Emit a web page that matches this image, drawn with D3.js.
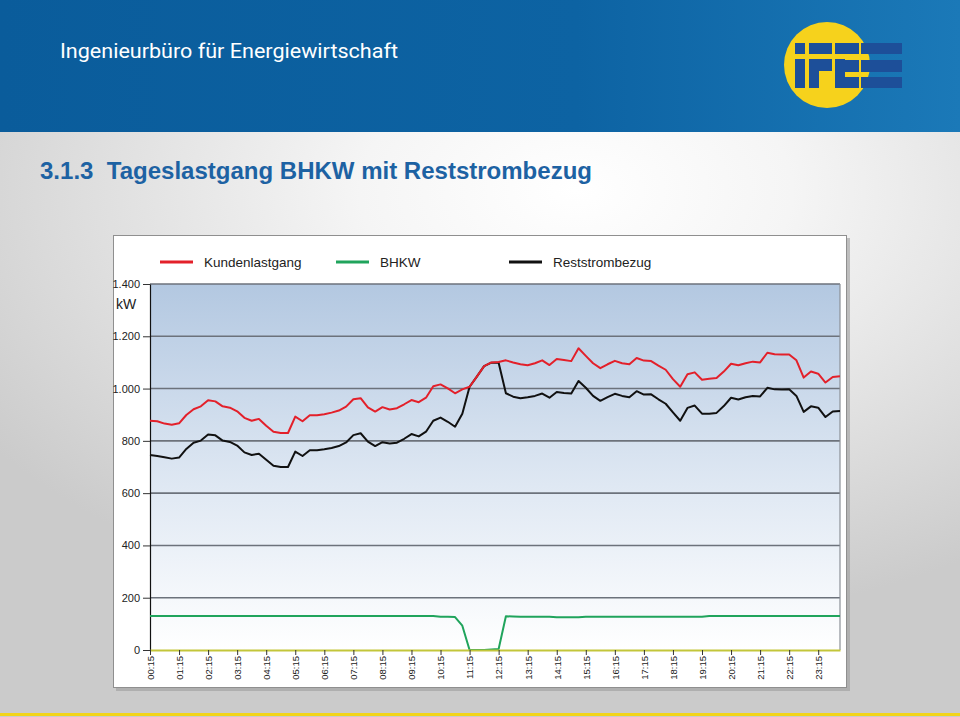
<!DOCTYPE html>
<html><head><meta charset="utf-8">
<script src="https://cdn.jsdelivr.net/npm/d3@7"></script>
<style>html,body{margin:0;padding:0;overflow:hidden;}svg{display:block;}</style>
</head><body>
<svg id="c" width="960" height="717"></svg>
<script>
const times = ["00:15","00:30","00:45","01:00","01:15","01:30","01:45","02:00","02:15","02:30","02:45","03:00",
"03:15","03:30","03:45","04:00","04:15","04:30","04:45","05:00","05:15","05:30","05:45","06:00",
"06:15","06:30","06:45","07:00","07:15","07:30","07:45","08:00","08:15","08:30","08:45","09:00",
"09:15","09:30","09:45","10:00","10:15","10:30","10:45","11:00","11:15","11:30","11:45","12:00",
"12:15","12:30","12:45","13:00","13:15","13:30","13:45","14:00","14:15","14:30","14:45","15:00",
"15:15","15:30","15:45","16:00","16:15","16:30","16:45","17:00","17:15","17:30","17:45","18:00",
"18:15","18:30","18:45","19:00","19:15","19:30","19:45","20:00","20:15","20:30","20:45","21:00",
"21:15","21:30","21:45","22:00","22:15","22:30","22:45","23:00","23:15","23:30","23:45","24:00"];

const kundenlastgang = [877,875,866,862,867,899,921,932,955,951,932,927,913,888,877,884,858,835,830,830,
893,875,898,898,902,908,916,931,959,963,928,912,929,920,925,940,956,948,965,1009,1016,1001,982,997,
1007,1046,1086,1100,1102,1108,1100,1093,1089,1097,1108,1090,1113,1109,1105,1154,1125,1097,1078,1093,
1106,1097,1093,1117,1107,1105,1088,1072,1036,1007,1055,1062,1034,1038,1040,1065,1095,1089,1097,1103,
1100,1137,1131,1130,1130,1108,1042,1065,1057,1023,1044,1047];

const bhkw = [130,130,130,130,130,130,130,130,130,130,130,130,130,130,130,130,130,130,130,130,
130,130,130,130,130,130,130,130,130,130,130,130,130,130,130,130,130,130,130,130,127,127,126,93,
0,0,0,2,4,129,128,127,127,127,127,127,125,125,125,125,127,127,127,127,
127,127,127,127,127,127,127,127,127,127,127,127,127,130,130,130,130,130,130,130,
130,130,130,130,130,130,130,130,130,130,130,130];

const reststrombezug = [746,742,737,732,736,769,793,801,824,821,801,796,782,756,746,751,728,705,700,700,
759,742,764,764,768,773,780,794,822,829,797,780,795,790,793,808,826,817,835,877,889,873,854,904,
1007,1046,1086,1099,1099,982,969,963,967,972,981,965,987,983,981,1029,1003,972,953,967,
980,972,967,990,977,978,959,942,909,877,926,935,904,904,907,933,965,958,967,972,
970,1003,997,996,997,972,911,932,927,891,912,914];

const xTickLabels = ["00:15","01:15","02:15","03:15","04:15","05:15","06:15","07:15","08:15","09:15","10:15","11:15",
"12:15","13:15","14:15","15:15","16:15","17:15","18:15","19:15","20:15","21:15","22:15","23:15"];
const yTicks = [0,200,400,600,800,1000,1200,1400];

const seriesNames = ["Kundenlastgang","BHKW","Reststrombezug"];
const seriesColors = ["#e3202a","#20a45c","#111111"];
const seriesData = [kundenlastgang, bhkw, reststrombezug];

const svg = d3.select("#c");
const defs = svg.append("defs");

const hg = defs.append("linearGradient").attr("id","hg").attr("x1",0).attr("x2",1).attr("y1",0).attr("y2",0);
hg.append("stop").attr("offset","0%").attr("stop-color","#0a5c9b");
hg.append("stop").attr("offset","60%").attr("stop-color","#0d63a3");
hg.append("stop").attr("offset","100%").attr("stop-color","#1b79b8");

const bg = defs.append("radialGradient").attr("id","bg").attr("cx","0.6").attr("cy","0.1").attr("r","0.75");
bg.append("stop").attr("offset","0%").attr("stop-color","#ffffff");
bg.append("stop").attr("offset","30%").attr("stop-color","#f5f5f5");
bg.append("stop").attr("offset","100%").attr("stop-color","#cbcbcb");

const pg = defs.append("linearGradient").attr("id","pg").attr("x1",0).attr("x2",0).attr("y1",0).attr("y2",1);
pg.append("stop").attr("offset","0%").attr("stop-color","#b3c8e1");
pg.append("stop").attr("offset","55%").attr("stop-color","#dfe8f3");
pg.append("stop").attr("offset","100%").attr("stop-color","#ffffff");

svg.append("rect").attr("x",0).attr("y",132).attr("width",960).attr("height",585).attr("fill","url(#bg)");
svg.append("rect").attr("x",0).attr("y",0).attr("width",960).attr("height",132).attr("fill","url(#hg)");
svg.append("rect").attr("x",0).attr("y",713).attr("width",960).attr("height",3).attr("fill","#f2d41a");

svg.append("text").attr("x",60).attr("y",58).attr("fill","#ffffff")
  .attr("font-family","Roboto, 'Open Sans', sans-serif").attr("font-weight",400).attr("font-size",21)
  .attr("textLength",338).attr("lengthAdjust","spacingAndGlyphs")
  .text("Ingenieurbüro für Energiewirtschaft");

// logo
const logo = svg.append("g");
logo.append("circle").attr("cx",827).attr("cy",65).attr("r",43).attr("fill","#f6d21c");
const lb = "#1d4f99";
[[795,43,10,11],[795,59,10,29],
 [809,43,23,11],[809,59,10,29],[819,59,13,12],
 [835,43,24,11],[835,59,10,29],[845,60,14,12],[845,77,14,11],
 [861,43,41,11],[861,60,41,12],[861,77,41,11]].forEach(r=>{
  logo.append("rect").attr("x",r[0]).attr("y",r[1]).attr("width",r[2]).attr("height",r[3]).attr("fill",lb);
});

svg.append("text").attr("x",40).attr("y",179).attr("fill","#1d62a3")
  .attr("font-family","'Liberation Sans', Arial, sans-serif").attr("font-weight","bold").attr("font-size",24)
  .attr("textLength",552).attr("lengthAdjust","spacingAndGlyphs")
  .style("white-space","pre")
  .text("3.1.3  Tageslastgang BHKW mit Reststrombezug");

// chart box
svg.append("rect").attr("x",116).attr("y",238).attr("width",734).attr("height",453).attr("fill","#9c9c9c").attr("opacity",0.6);
svg.append("rect").attr("x",113.5).attr("y",235.5).attr("width",733).attr("height",452).attr("fill","#ffffff").attr("stroke","#8f8f8f").attr("stroke-width",1);

const x = d3.scalePoint().domain(times).range([150,840]);
const y = d3.scaleLinear().domain([0,1400]).range([650,284]);
const de = d3.formatLocale({decimal:",",thousands:".",grouping:[3],currency:["","€"]});
const fmt = de.format(",d");

svg.append("rect").attr("x",150).attr("y",284).attr("width",690).attr("height",366).attr("fill","url(#pg)");

svg.append("g").selectAll("line").data(yTicks.filter(d=>d>0)).join("line")
  .attr("x1",150).attr("x2",840).attr("y1",d=>y(d)).attr("y2",d=>y(d))
  .attr("stroke","#6c727b").attr("stroke-width",1.6);
svg.append("line").attr("x1",840).attr("x2",840).attr("y1",284).attr("y2",650).attr("stroke","#8a8f96").attr("stroke-width",1.2);

const ya = svg.append("g").attr("transform","translate(150,0)")
  .call(d3.axisLeft(y).tickValues(yTicks).tickFormat(fmt).tickSize(7).tickSizeOuter(0).tickPadding(3));
ya.select(".domain").attr("stroke","#111").attr("stroke-width",1.2);
ya.selectAll(".tick line").attr("stroke","#333");
ya.selectAll("text").attr("font-family","'Liberation Sans', Arial, sans-serif").attr("font-size",11).attr("fill","#222");
svg.append("text").attr("x",116).attr("y",309).attr("font-family","'Liberation Sans', Arial, sans-serif")
  .attr("font-size",14).attr("fill","#222").text("kW");

const line = d3.line().x((d,i)=>x(times[i])).y(d=>y(d));
[1,2,0].forEach(k=>{
  svg.append("path").datum(seriesData[k]).attr("d",line).attr("fill","none")
    .attr("stroke",seriesColors[k]).attr("stroke-width",2).attr("stroke-linejoin","round");
});

const xa = svg.append("g").attr("transform","translate(0,650)")
  .call(d3.axisBottom(x).tickValues(xTickLabels).tickSize(5).tickSizeOuter(0).tickPadding(3));
xa.select(".domain").attr("stroke","#c3c63a").attr("stroke-width",2);
xa.selectAll(".tick line").attr("stroke","#333");
xa.selectAll("text").attr("font-family","'Liberation Sans', Arial, sans-serif").attr("font-size",9.5).attr("fill","#222")
  .attr("transform","rotate(-90)").attr("text-anchor","end").attr("x",-6).attr("y",0).attr("dy","0.35em");

const legX = [160,336,509];
const leg = svg.append("g");
seriesNames.forEach((n,i)=>{
  leg.append("line").attr("x1",legX[i]).attr("x2",legX[i]+33).attr("y1",262).attr("y2",262)
    .attr("stroke",seriesColors[i]).attr("stroke-width",3);
  leg.append("text").attr("x",legX[i]+44).attr("y",267).attr("font-family","'Liberation Sans', Arial, sans-serif")
    .attr("font-size",13.5).attr("fill","#222").text(n);
});
</script>
</body></html>
